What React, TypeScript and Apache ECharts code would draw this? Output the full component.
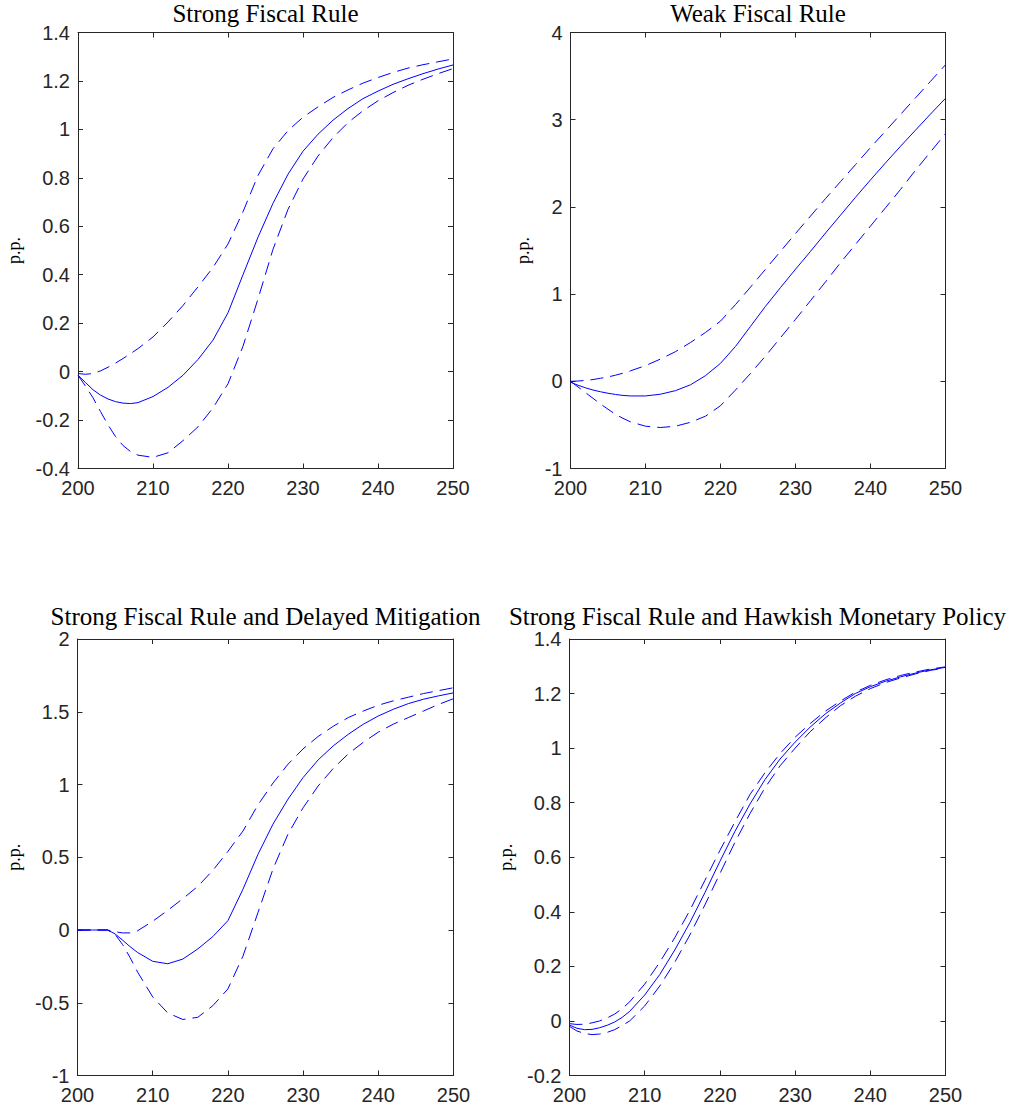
import React, { useEffect, useRef } from "react";
import * as echarts from "echarts";

const periods = [200, 201, 202, 203, 204, 205, 206, 207, 208, 210, 212, 214, 216, 218, 220, 222, 224, 226, 228, 230, 232, 234, 236, 238, 240, 242, 244, 246, 248, 250];

const xTicks = { min: 200, max: 250, interval: 10 };

// Strong Fiscal Rule
const strongMid = [-0.015, -0.045, -0.075, -0.097, -0.113, -0.124, -0.13, -0.132, -0.128, -0.103, -0.065, -0.015, 0.05, 0.13, 0.243, 0.4, 0.555, 0.695, 0.815, 0.91, 0.98, 1.038, 1.086, 1.127, 1.158, 1.186, 1.209, 1.23, 1.249, 1.266];
const strongUpper = [-0.008, -0.011, -0.008, 0.003, 0.018, 0.035, 0.054, 0.074, 0.095, 0.143, 0.205, 0.273, 0.35, 0.43, 0.527, 0.66, 0.81, 0.92, 0.995, 1.05, 1.093, 1.132, 1.163, 1.191, 1.214, 1.235, 1.253, 1.267, 1.279, 1.291];
const strongLower = [-0.015, -0.06, -0.108, -0.165, -0.22, -0.268, -0.305, -0.33, -0.345, -0.354, -0.335, -0.285, -0.228, -0.15, -0.05, 0.105, 0.3, 0.505, 0.67, 0.795, 0.89, 0.966, 1.028, 1.077, 1.118, 1.152, 1.182, 1.207, 1.23, 1.251];

// Weak Fiscal Rule
const weakMid = [-0.01, -0.045, -0.075, -0.1, -0.12, -0.137, -0.151, -0.162, -0.168, -0.168, -0.148, -0.107, -0.04, 0.065, 0.206, 0.4, 0.63, 0.86, 1.075, 1.285, 1.49, 1.7, 1.905, 2.11, 2.31, 2.505, 2.695, 2.88, 3.065, 3.245];
const weakUpper = [0, 0.003, 0.01, 0.02, 0.035, 0.05, 0.07, 0.093, 0.12, 0.18, 0.255, 0.34, 0.445, 0.56, 0.69, 0.88, 1.08, 1.285, 1.49, 1.695, 1.895, 2.095, 2.29, 2.485, 2.68, 2.87, 3.06, 3.25, 3.44, 3.63];
const weakLower = [0, -0.065, -0.13, -0.195, -0.26, -0.32, -0.38, -0.425, -0.465, -0.515, -0.53, -0.515, -0.47, -0.4, -0.28, -0.1, 0.09, 0.29, 0.5, 0.71, 0.925, 1.14, 1.36, 1.57, 1.78, 1.99, 2.2, 2.42, 2.63, 2.84];

// Strong Fiscal Rule and Delayed Mitigation
const delayedMid = [0, 0, 0, 0, 0, -0.027, -0.07, -0.115, -0.155, -0.215, -0.232, -0.2, -0.13, -0.045, 0.064, 0.28, 0.52, 0.728, 0.9, 1.048, 1.169, 1.265, 1.345, 1.414, 1.471, 1.517, 1.556, 1.586, 1.609, 1.63];
const delayedUpper = [0, 0, 0, 0, 0, -0.012, -0.02, -0.02, -0.005, 0.06, 0.135, 0.215, 0.3, 0.41, 0.54, 0.68, 0.86, 1.01, 1.14, 1.245, 1.33, 1.4, 1.46, 1.505, 1.545, 1.575, 1.6, 1.625, 1.645, 1.665];
const delayedLower = [0, 0, 0, 0, 0, -0.03, -0.1, -0.19, -0.29, -0.46, -0.57, -0.615, -0.6, -0.52, -0.405, -0.18, 0.12, 0.42, 0.66, 0.84, 0.99, 1.11, 1.21, 1.29, 1.36, 1.415, 1.46, 1.505, 1.55, 1.59];

// Strong Fiscal Rule and Hawkish Monetary Policy
const hawkishMid = [-0.015, -0.027, -0.032, -0.031, -0.025, -0.016, -0.004, 0.013, 0.035, 0.095, 0.17, 0.26, 0.36, 0.47, 0.585, 0.695, 0.795, 0.885, 0.96, 1.022, 1.077, 1.125, 1.165, 1.2, 1.225, 1.245, 1.261, 1.275, 1.287, 1.296];
const hawkishUpper = [-0.01, -0.013, -0.012, -0.007, 0.0, 0.011, 0.025, 0.045, 0.07, 0.135, 0.215, 0.305, 0.405, 0.515, 0.625, 0.73, 0.83, 0.91, 0.98, 1.04, 1.09, 1.135, 1.172, 1.205, 1.23, 1.25, 1.266, 1.279, 1.29, 1.298];
const hawkishLower = [-0.02, -0.037, -0.046, -0.05, -0.048, -0.042, -0.032, -0.017, 0.0, 0.055, 0.128, 0.215, 0.315, 0.425, 0.54, 0.655, 0.76, 0.855, 0.935, 1.0, 1.06, 1.11, 1.155, 1.19, 1.218, 1.24, 1.257, 1.272, 1.285, 1.294];

const panelTitles = [
  "Strong Fiscal Rule",
  "Weak Fiscal Rule",
  "Strong Fiscal Rule and Delayed Mitigation",
  "Strong Fiscal Rule and Hawkish Monetary Policy",
];
const yLabel = "p.p.";
const yRanges = [
  { min: -0.4, max: 1.4, interval: 0.2 },
  { min: -1, max: 4, interval: 1 },
  { min: -1, max: 2, interval: 0.5 },
  { min: -0.2, max: 1.4, interval: 0.2 },
];
const panelSeries = [
  [strongMid, strongUpper, strongLower],
  [weakMid, weakUpper, weakLower],
  [delayedMid, delayedUpper, delayedLower],
  [hawkishMid, hawkishUpper, hawkishLower],
];

const grids = [
  { left: 78, top: 32.5, width: 375, height: 436 },
  { left: 570.5, top: 32.5, width: 375, height: 436 },
  { left: 77.5, top: 639, width: 376, height: 436.5 },
  { left: 569.5, top: 639, width: 376, height: 436.5 },
];
const titleY = [13.5, 13.5, 616.5, 616.5];
const yLabelX = [14, 523, 14, 506];

const AXIS_COLOR = "#262626";
const LINE_COLOR = "#0000ff";
const SANS = "Liberation Sans";
const SERIF = "Liberation Serif";

function buildOption() {
  const xAxis: any[] = [];
  const yAxis: any[] = [];
  const series: any[] = [];
  const graphic: any[] = [];

  grids.forEach((g, i) => {
    const axisLine = { show: true, onZero: false, lineStyle: { color: AXIS_COLOR, width: 1 } };
    const axisTick = { show: true, inside: true, length: 5, lineStyle: { color: AXIS_COLOR, width: 1 } };
    xAxis.push({
      type: "value", gridIndex: i, position: "bottom", ...xTicks,
      axisLine, axisTick, splitLine: { show: false },
      axisLabel: { show: true, color: AXIS_COLOR, fontFamily: SANS, fontSize: 20, margin: 9, showMinLabel: true, showMaxLabel: true },
    });
    xAxis.push({
      type: "value", gridIndex: i, position: "top", ...xTicks,
      axisLine, axisTick, splitLine: { show: false }, axisLabel: { show: false },
    });
    yAxis.push({
      type: "value", gridIndex: i, position: "left", ...yRanges[i],
      axisLine, axisTick, splitLine: { show: false },
      axisLabel: { show: true, color: AXIS_COLOR, fontFamily: SANS, fontSize: 20, margin: 8, showMinLabel: true, showMaxLabel: true },
    });
    yAxis.push({
      type: "value", gridIndex: i, position: "right", ...yRanges[i],
      axisLine, axisTick, splitLine: { show: false }, axisLabel: { show: false },
    });

    panelSeries[i].forEach((vals, k) => {
      series.push({
        type: "line",
        xAxisIndex: 2 * i,
        yAxisIndex: 2 * i,
        data: periods.map((p, j) => [p, vals[j]]),
        showSymbol: false,
        symbol: "none",
        smooth: false,
        silent: true,
        lineStyle: { color: LINE_COLOR, width: 1, type: k === 0 ? "solid" : [13, 7] },
      });
    });

    graphic.push({
      type: "text",
      x: g.left + g.width / 2,
      y: titleY[i],
      style: { text: panelTitles[i], fill: "#000", font: `25px ${SERIF}`, textAlign: "center", textVerticalAlign: "middle" },
    });
    graphic.push({
      type: "text",
      x: yLabelX[i],
      y: g.top + g.height / 2,
      rotation: Math.PI / 2,
      style: { text: yLabel, fill: "#000", font: `18px ${SERIF}`, textAlign: "center", textVerticalAlign: "middle" },
    });
  });

  return {
    animation: false,
    backgroundColor: "#ffffff",
    grid: grids.map((g) => ({ ...g, containLabel: false })),
    xAxis,
    yAxis,
    series,
    graphic,
  };
}

export default function App() {
  const ref = useRef<HTMLDivElement>(null);
  useEffect(() => {
    if (!ref.current) return;
    const chart = echarts.init(ref.current, undefined, { renderer: "svg" });
    chart.setOption(buildOption() as any);
    return () => chart.dispose();
  }, []);
  return (
    <div
      ref={ref}
      style={{ position: "absolute", left: 0, top: 0, width: 1019, height: 1113, background: "#fff" }}
    />
  );
}
